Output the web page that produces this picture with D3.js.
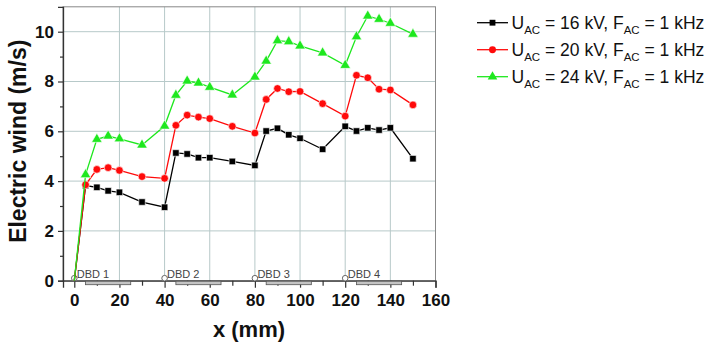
<!DOCTYPE html>
<html>
<head>
<meta charset="utf-8">
<script src="https://cdn.jsdelivr.net/npm/d3@7"></script>
<style>
  body { margin: 0; background: #fff; }
  text { font-family: "Liberation Sans", Arial, sans-serif; }
</style>
</head>
<body>
<div id="chart"></div>
<script>
// data
const xs = [0, 5, 10, 15, 20, 30, 40, 45, 50, 55, 60, 70, 80, 85, 90, 95, 100, 110, 120, 125, 130, 135, 140, 150];
const wind16 = [0, 3.82, 3.75, 3.61, 3.55, 3.16, 2.95, 5.13, 5.09, 4.94, 4.94, 4.79, 4.63, 6.01, 6.12, 5.86, 5.72, 5.28, 6.2, 6.01, 6.14, 6.05, 6.14, 4.9];
const wind20 = [0, 3.85, 4.47, 4.54, 4.43, 4.18, 4.11, 6.24, 6.65, 6.57, 6.51, 6.2, 5.93, 7.28, 7.72, 7.59, 7.6, 7.11, 6.61, 8.25, 8.15, 7.69, 7.66, 7.06];
const wind24 = [0, 4.26, 5.68, 5.81, 5.7, 5.45, 6.21, 7.45, 8.02, 7.94, 7.77, 7.46, 8.18, 8.82, 9.64, 9.6, 9.43, 9.15, 8.65, 9.8, 10.63, 10.5, 10.34, 9.9];
const voltages = ["16", "20", "24"];
const dbdNames = ["DBD 1", "DBD 2", "DBD 3", "DBD 4"];
const dbdPos = [0, 40, 80, 120];
const dbdStart = [5, 45, 85, 125];
const dbdEnd = [25, 65, 105, 145];
const xTicks = [0, 20, 40, 60, 80, 100, 120, 140, 160];
const yTicks = [0, 2, 4, 6, 8, 10];

const W = 705, H = 343;
const svg = d3.select("#chart").append("svg").attr("width", W).attr("height", H);

const x = d3.scaleLinear().domain([-5, 160]).range([63, 435.5]);
const y = d3.scaleLinear().domain([0, 11]).range([280.7, 6.8]);

// grid
const grid = svg.append("g").attr("stroke", "#b7c9c9").attr("stroke-width", 1);
grid.selectAll(".gx").data(xTicks.filter(d => d > 0 && d < 160)).join("line")
    .attr("x1", d => x(d)).attr("x2", d => x(d)).attr("y1", y(11)).attr("y2", y(0));
grid.selectAll(".gy").data(yTicks.filter(d => d > 0)).join("line")
    .attr("x1", x(-5)).attr("x2", x(160)).attr("y1", d => y(d)).attr("y2", d => y(d));

// frame
svg.append("rect")
    .attr("x", x(-5)).attr("y", y(11))
    .attr("width", x(160) - x(-5)).attr("height", y(0) - y(11))
    .attr("fill", "none").attr("stroke", "#888").attr("stroke-width", 1);

// axes
const xAxis = svg.append("g").attr("transform", `translate(0,${y(0)})`)
    .call(d3.axisBottom(x).tickValues(xTicks).tickSize(7).tickFormat(d3.format("d")));
svg.append("g").attr("transform", `translate(0,${y(0)})`)
    .call(d3.axisBottom(x).tickValues(d3.range(10, 160, 20)).tickSize(5).tickFormat(""))
    .call(g => g.select(".domain").remove());
const yAxis = svg.append("g").attr("transform", `translate(${x(-5)},0)`)
    .call(d3.axisLeft(y).tickValues(yTicks).tickSize(5).tickPadding(4));
svg.append("g").attr("transform", `translate(${x(-5)},0)`)
    .call(d3.axisLeft(y).tickValues([1, 3, 5, 7, 9]).tickSize(3).tickFormat(""))
    .call(g => g.select(".domain").remove());

svg.selectAll(".domain").attr("stroke", "#333").attr("stroke-width", 1.3);
svg.selectAll(".tick line").attr("stroke", "#333").attr("stroke-width", 1.2);
xAxis.selectAll("text").attr("font-size", 17).attr("font-weight", "bold").attr("fill", "#111").attr("dy", "0.92em");
yAxis.selectAll("text").attr("font-size", 17).attr("font-weight", "bold").attr("fill", "#111");

// DBD electrodes
const dbd = svg.append("g");
dbd.selectAll("rect").data(dbdStart).join("rect")
    .attr("x", (d, i) => x(d)).attr("y", y(0) + 0.5)
    .attr("width", (d, i) => x(dbdEnd[i]) - x(d)).attr("height", 3.5)
    .attr("fill", "#c4c4c4").attr("stroke", "#555").attr("stroke-width", 0.8);
dbd.selectAll("circle").data(dbdPos).join("circle")
    .attr("cx", d => x(d)).attr("cy", y(0) - 2.5).attr("r", 2.8)
    .attr("fill", "#fff").attr("stroke", "#666").attr("stroke-width", 1);
dbd.selectAll("text").data(dbdNames).join("text")
    .attr("x", (d, i) => x(dbdPos[i]) + 2.5).attr("y", y(0) - 3)
    .attr("font-size", 11).attr("fill", "#444").text(d => d);

// series
const series = [
  { v: wind16, color: "#000000", sym: d3.symbolSquare, size: 42 },
  { v: wind20, color: "#ff0a0a", sym: d3.symbolCircle, size: 46 },
  { v: wind24, color: "#1ee81e", sym: d3.symbolTriangle, size: 48 }
];
const line = d3.line().x((d, i) => x(xs[i])).y(d => y(d));
series.forEach(s => {
  svg.append("path").datum(s.v).attr("d", line)
      .attr("fill", "none").attr("stroke", s.color).attr("stroke-width", 1.3);
  svg.append("g").selectAll("path").data(s.v.slice(1)).join("path")
      .attr("transform", (d, i) => `translate(${x(xs[i + 1])},${y(d)})`)
      .attr("d", d3.symbol().type(s.sym).size(s.size))
      .attr("fill", s.color).attr("stroke", "#fff").attr("stroke-width", 0.6);
});

// axis titles
svg.append("text").attr("transform", `translate(26,${y(5.6)}) rotate(-90)`)
    .attr("text-anchor", "middle").attr("font-size", 23).attr("font-weight", "bold")
    .attr("fill", "#111").text("Electric wind (m/s)");
svg.append("text").attr("x", 249).attr("y", 337)
    .attr("text-anchor", "middle").attr("font-size", 22).attr("font-weight", "bold")
    .attr("fill", "#111").text("x (mm)");

// legend
const legend = svg.append("g");
series.forEach((s, i) => {
  const ly = 22.7 + i * 27;
  legend.append("line").attr("x1", 477).attr("x2", 508).attr("y1", ly).attr("y2", ly)
      .attr("stroke", s.color).attr("stroke-width", 1.3);
  legend.append("path").attr("transform", `translate(492.5,${ly})`)
      .attr("d", d3.symbol().type(s.sym).size(s.size - 8)).attr("fill", s.color);
  const t = legend.append("text").attr("x", 511.5).attr("y", ly + 6)
      .attr("font-size", 17.5).attr("fill", "#111");
  t.append("tspan").text("U");
  t.append("tspan").attr("font-size", 11.5).attr("dy", 5).text("AC");
  t.append("tspan").attr("dy", -5).text(` = ${voltages[i]} kV, F`);
  t.append("tspan").attr("font-size", 11.5).attr("dy", 5).text("AC");
  t.append("tspan").attr("dy", -5).text(" = 1 kHz");
});
</script>
</body>
</html>
